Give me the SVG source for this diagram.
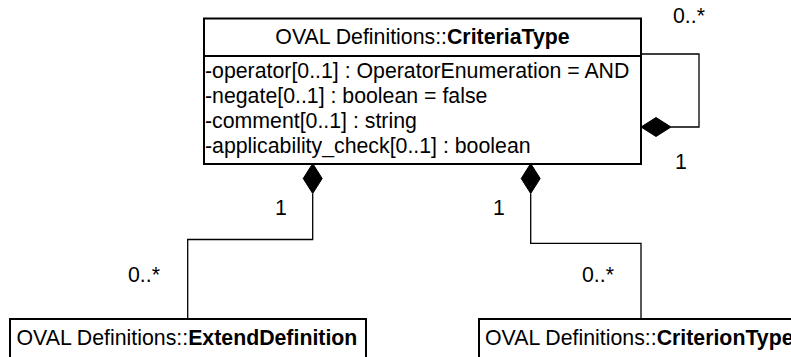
<svg xmlns="http://www.w3.org/2000/svg" width="791" height="357" viewBox="0 0 791 357">
<style>
.box{fill:#fff;stroke:#000;stroke-width:2}
.ln{fill:none;stroke:#000;stroke-width:1.3}
.dm{fill:#000;stroke:#000;stroke-width:1}
text{font-family:"Liberation Sans",Arial,sans-serif;font-size:21.3px;fill:#000}
.b{font-weight:bold}
</style>
<rect width="791" height="357" fill="#fff"/>
<g id="connectors">
<path class="ln" d="M641,54 H699 V127 H671"/>
<polygon class="dm" points="641,127 656,117.5 671,127 656,136.5"/>
<path class="ln" d="M312.7,193.5 V239.5 H187.7 V319"/>
<polygon class="dm" points="312.7,163.5 322.2,178.5 312.7,193.5 303.2,178.5"/>
<path class="ln" d="M530.7,193.5 V243.3 H641 V319"/>
<polygon class="dm" points="530.7,163.5 540.2,178.5 530.7,193.5 521.2,178.5"/>
<text x="673" y="23">0..*</text>
<text x="675" y="169">1</text>
<text x="275" y="215">1</text>
<text x="128" y="282">0..*</text>
<text x="493" y="215">1</text>
<text x="582" y="282">0..*</text>
</g>
<g id="CriteriaType">
<rect class="box" x="204" y="18.5" width="437" height="145.5"/>
<line x1="204" y1="56" x2="641" y2="56" stroke="#000" stroke-width="2"/>
<text x="422.5" y="43.5" text-anchor="middle">OVAL Definitions::<tspan class="b">CriteriaType</tspan></text>
<text x="205" y="78">-operator[0..1] : OperatorEnumeration = AND</text>
<text x="205" y="103">-negate[0..1] : boolean = false</text>
<text x="205" y="128">-comment[0..1] : string</text>
<text x="205" y="153">-applicability_check[0..1] : boolean</text>
</g>
<g id="ExtendDefinition">
<rect class="box" x="10" y="319" width="356" height="50"/>
<text x="16.5" y="345">OVAL Definitions::<tspan class="b">ExtendDefinition</tspan></text>
</g>
<g id="CriterionType">
<rect class="box" x="479" y="319" width="330" height="50"/>
<text x="485" y="345">OVAL Definitions::<tspan class="b">CriterionType</tspan></text>
</g>
</svg>
